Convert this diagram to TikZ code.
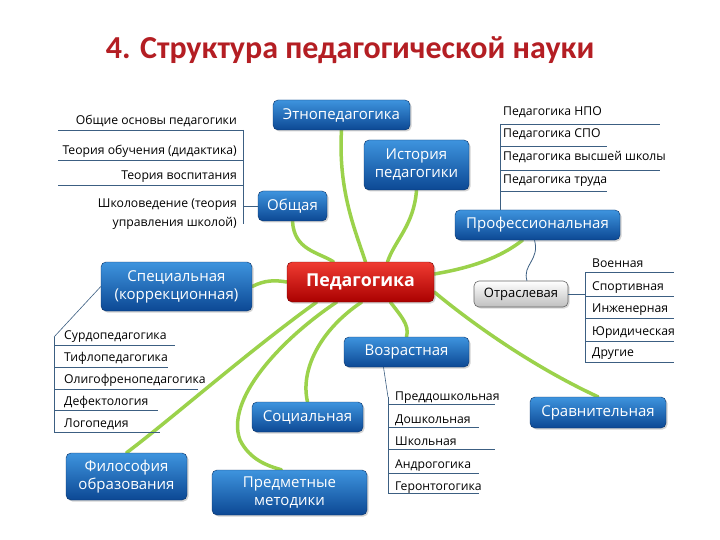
\documentclass[tikz,border=0pt]{standalone}
\usepackage{fontspec}
\setmainfont{Open Sans}
\newfontfamily\titlefont{Carlito}
\usetikzlibrary{shadows}
\pgfdeclarelayer{bg}
\pgfsetlayers{bg,main}
\definecolor{grn}{RGB}{155,210,75}
\definecolor{bltop}{RGB}{62,148,222}
\definecolor{blbot}{RGB}{12,72,148}
\definecolor{lineblue}{RGB}{60,95,130}
\definecolor{titlered}{RGB}{180,30,35}
\definecolor{redtop}{RGB}{240,60,50}
\definecolor{redbot}{RGB}{170,0,0}
\begin{document}
\begin{tikzpicture}[x=1pt,y=-1pt,
  bnode/.style={rounded corners=5pt, top color=bltop, bottom color=blbot, draw=blbot!70!black, line width=0.4pt,
    text=white, font=\fontsize{15}{18}\selectfont, align=center, inner sep=0pt,
    drop shadow={opacity=0.35, shadow xshift=1.5pt, shadow yshift=-1.5pt}},
  rnode/.style={bnode, top color=redtop, bottom color=redbot, draw=redbot!70!black, font=\fontsize{17.8}{20}\selectfont\bfseries},
  gnode/.style={rounded corners=5pt, top color=white, bottom color=black!25, draw=black!60, line width=0.6pt,
    text=black, font=\fontsize{13}{16}\selectfont, inner sep=0pt,
    drop shadow={opacity=0.3, shadow xshift=1.5pt, shadow yshift=-1.5pt}},
  lt/.style={font=\fontsize{12.2}{19}\selectfont, inner sep=0pt, text=black},
  listline/.style={draw=lineblue, line width=0.6pt},
  gline/.style={draw=grn, line width=3.5pt, line cap=round},
  thinlink/.style={draw=lineblue, line width=0.8pt}
]
\begin{pgfonlayer}{bg}
\fill[white] (0,0) rectangle (720,540);
\end{pgfonlayer}
\useasboundingbox (0,0) rectangle (720,540);

% title
\node[font=\titlefont\fontsize{32}{36}\selectfont\bfseries, text=titlered] (title) at (350,50) {4. Структура педагогической науки};

% nodes
\node[rnode, minimum width=147pt, minimum height=40pt] (ped) at (360.5,282) {Педагогика};
\node[bnode, minimum width=137pt, minimum height=30pt] (etno) at (341.5,115) {Этнопедагогика};
\node[bnode, minimum width=105pt, minimum height=50pt] (ist) at (416.5,165) {История\\педагогики};
\node[bnode, minimum width=69pt, minimum height=30pt] (obsh) at (292.5,206) {Общая};
\node[bnode, minimum width=165pt, minimum height=30pt] (prof) at (537.5,225) {Профессиональная};
\node[bnode, minimum width=151pt, minimum height=49pt] (spec) at (176.5,286.5) {Специальная\\(коррекционная)};
\node[gnode, minimum width=94pt, minimum height=26pt] (otr) at (521,294) {Отраслевая};
\node[bnode, minimum width=125pt, minimum height=30pt] (vozr) at (406.5,352) {Возрастная};
\node[bnode, minimum width=111pt, minimum height=30pt] (soc) at (307.5,417) {Социальная};
\node[bnode, minimum width=136pt, minimum height=31pt] (sravn) at (598,412.5) {Сравнительная};
\node[bnode, minimum width=121pt, minimum height=47pt] (filos) at (126.5,476.5) {Философия\\образования};
\node[bnode, minimum width=155pt, minimum height=45pt] (pred) at (289.5,492.5) {Предметные\\методики};

% green curves (behind nodes)
\begin{pgfonlayer}{bg}
\draw[gline] (etno.south) .. controls (338,190) and (355,230) .. ([xshift=5pt]ped.north);
\draw[gline] (ist.south) .. controls (414,225) and (395,240) .. ([xshift=27pt]ped.north);
\draw[gline] (obsh.south) .. controls (294,250) and (318,252) .. ([xshift=-27pt]ped.north);
\draw[gline] ([yshift=8pt]ped.east) .. controls (470,268) and (500,258) .. ([xshift=-15pt]prof.south);
\draw[gline] (spec.east) .. controls (265,280) and (275,280) .. (ped.west);
\draw[gline] ([yshift=-10pt]ped.east) .. controls (480,330) and (540,370) .. (sravn.north);
\draw[gline] ([xshift=30pt]ped.south) .. controls (400,315) and (410,325) .. (vozr.north);
\draw[gline] ([xshift=1pt]ped.south) .. controls (320,330) and (300,370) .. (soc.north);
\draw[gline] ([xshift=-24pt]ped.south) .. controls (280,340) and (225,400) .. (240,440) .. controls (250,460) and (268,466) .. ([xshift=-8pt]pred.north);
\draw[gline] ([xshift=-44pt]ped.south) .. controls (250,350) and (170,420) .. (filos.north);
\end{pgfonlayer}

% ---- top-left list (Общая)
\coordinate (tl) at (243,206);
\draw[listline] (obsh.west) -- (tl);
\draw[listline] (243,130) -- (243,224);
\foreach \y in {130,160,185} \draw[listline] (58,\y) -- (243,\y);
\node[lt, anchor=base east] (a1) at (237,125) {Общие основы педагогики};
\node[lt, anchor=base east] (a2) at (237,155) {Теория обучения (дидактика)};
\node[lt, anchor=base east] (a3) at (237,180) {Теория воспитания};
\node[lt, anchor=base east, align=right] (a4) at (237,226) {Школоведение (теория\\управления школой)};

% ---- top-right list (Профессиональная)
\draw[listline] (500,124) -- (prof.north -| 500,0);
\draw[listline] (500,124) -- (660,124);
\draw[listline] (500,146) -- (607,146);
\draw[listline] (500,170) -- (660,170);
\draw[listline] (500,191) -- (607,191);
\node[lt, anchor=base west] (b1) at (503,116) {Педагогика НПО};
\node[lt, anchor=base west] (b2) at (503,138) {Педагогика СПО};
\node[lt, anchor=base west] (b3) at (503,161) {Педагогика высшей школы};
\node[lt, anchor=base west] (b4) at (503,184) {Педагогика труда};

% ---- Отраслевая
\draw[thinlink] ([xshift=-3pt]prof.south) .. controls (540,260) and (522,265) .. ([xshift=6pt]otr.north);
\coordinate (ol) at (585,294);
\draw[listline] (otr.east) -- (ol);
\draw[listline] (585,272) -- (585,362);
\foreach \y in {272,296,318,341,362} \draw[listline] (585,\y) -- (674,\y);
\node[lt, anchor=base west] (c1) at (592,267) {Военная};
\node[lt, anchor=base west] (c2) at (592,290) {Спортивная};
\node[lt, anchor=base west] (c3) at (592,312) {Инженерная};
\node[lt, anchor=base west] (c4) at (592,335) {Юридическая};
\node[lt, anchor=base west] (c5) at (592,356) {Другие};

% ---- Специальная list
\coordinate (sl) at (54,337);
\draw[listline] (spec.west) -- (sl);
\draw[listline] (54,337) -- (54,432);
\draw[listline] (54,345) -- (175,345);
\draw[listline] (54,367) -- (168,367);
\draw[listline] (54,389) -- (198,389);
\draw[listline] (54,410) -- (158,410);
\draw[listline] (54,432) -- (160,432);
\node[lt, anchor=base west] (d1) at (64,339) {Сурдопедагогика};
\node[lt, anchor=base west] (d2) at (64,361) {Тифлопедагогика};
\node[lt, anchor=base west] (d3) at (64,383) {Олигофренопедагогика};
\node[lt, anchor=base west] (d4) at (64,405) {Дефектология};
\node[lt, anchor=base west] (d5) at (64,427) {Логопедия};

% ---- Возрастная list
\coordinate (vl) at (388,397);
\draw[listline] ([xshift=-23pt]vozr.south) -- (vl);
\draw[listline] (388,397) -- (388,493);
\draw[listline] (388,404) -- (495,404);
\draw[listline] (388,427) -- (479,427);
\draw[listline] (388,449) -- (495,449);
\draw[listline] (388,473) -- (479,473);
\draw[listline] (388,493) -- (479,493);
\node[lt, anchor=base west] (e1) at (395,400) {Преддошкольная};
\node[lt, anchor=base west] (e2) at (395,423) {Дошкольная};
\node[lt, anchor=base west] (e3) at (395,445) {Школьная};
\node[lt, anchor=base west] (e4) at (395,468) {Андрогогика};
\node[lt, anchor=base west] (e5) at (395,490) {Геронтогогика};
\end{tikzpicture}
\end{document}
